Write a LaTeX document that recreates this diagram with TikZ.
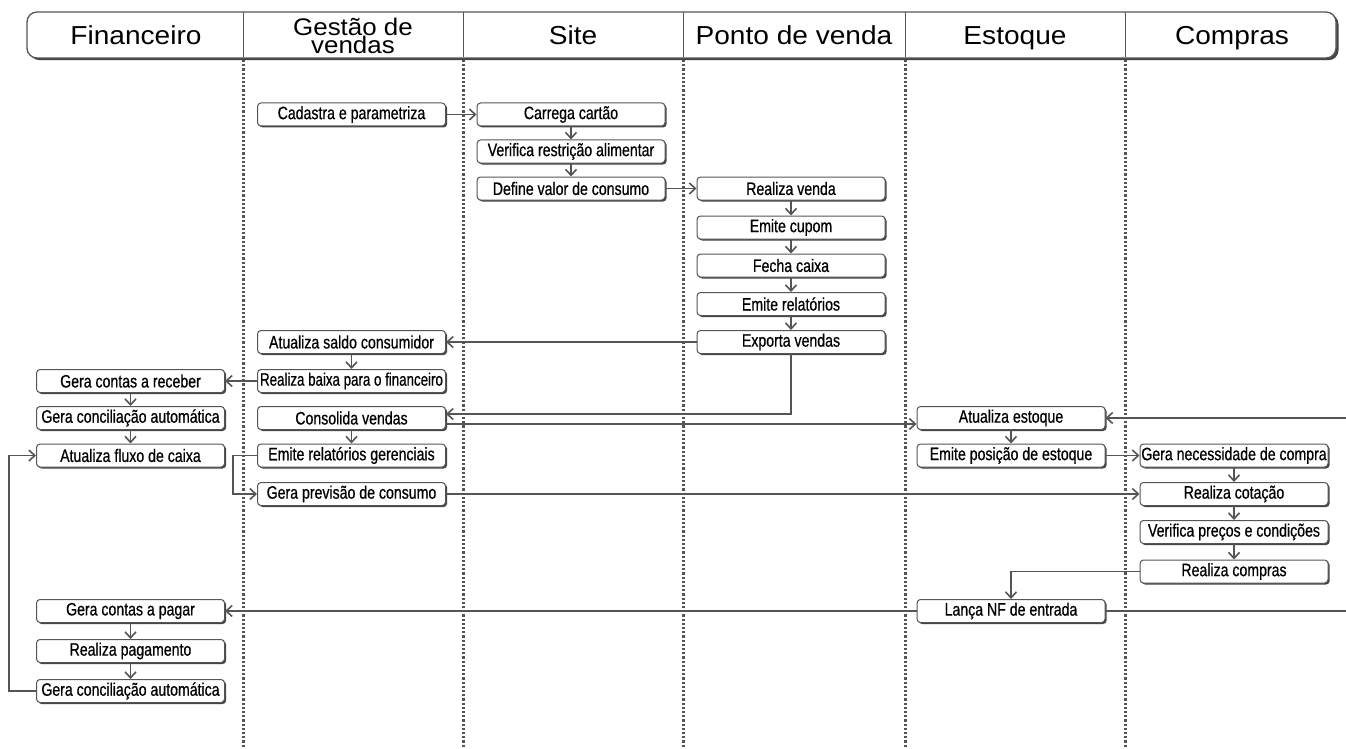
\documentclass[tikz,border=0pt]{standalone}
\usepackage{fontspec}
\setmainfont{Liberation Sans}
\newfontfamily\hdfont[FakeStretch=1.08]{Liberation Sans}
\newfontfamily\bxfont[FakeStretch=0.785,FakeBold=0.6]{Liberation Sans}
\newfontfamily\bxnarrow[FakeStretch=0.74,FakeBold=0.6]{Liberation Sans}
\usetikzlibrary{arrows.meta,shadows,calc}
\definecolor{ln}{HTML}{555555}
\definecolor{sh}{HTML}{444444}
\begin{document}
\begin{tikzpicture}[x=1pt,y=-1pt,
  proc/.style={draw=ln, line width=1pt, rounded corners=3.5pt, fill=white,
    minimum width=188pt, minimum height=23pt, inner sep=0pt,
    font=\bxfont\fontsize{18}{18}\selectfont,
    drop shadow={shadow xshift=1.6pt, shadow yshift=-1.5pt, fill=sh, opacity=1}},
  con/.style={draw=ln, line width=1.6pt, -{Straight Barb[length=6pt,width=11pt]}},
  lin/.style={draw=ln, line width=1.6pt},
  lane/.style={draw=ln, line width=3pt, dash pattern=on 2.2pt off 2pt},
  hdr/.style={font=\hdfont\fontsize{26}{18}\selectfont, align=center, inner sep=0pt, anchor=base},
  hdrdiv/.style={draw=ln, line width=1pt}
]
\useasboundingbox[fill=white] (0,0) rectangle (1346,749);

% header
\node[draw=ln, line width=1.3pt, rounded corners=10pt, fill=white,
  minimum width=1309pt, minimum height=46pt, inner sep=0pt,
  drop shadow={shadow xshift=2.5pt, shadow yshift=-2.2pt, fill=sh, opacity=1}]
  (header) at (681.5,35) {};
\foreach \x in {243,463,683,905,1125}{
  \draw[hdrdiv] (\x,12.5) -- (\x,57.5);
  \draw[lane] (\x,60) -- (\x,749);
}
\node[hdr] (hfin)  at (136,45)  {Financeiro};
\node[hdr, font=\hdfont\fontsize{24}{18.5}\selectfont, anchor=center] (hgv) at (353,36) {Gestão de\\vendas};
\node[hdr] (hsite) at (573,45)  {Site};
\node[hdr] (hpv)   at (794,45)  {Ponto de venda};
\node[hdr] (hest)  at (1015,45) {Estoque};
\node[hdr] (hcomp) at (1232,45) {Compras};

% Gestao de vendas
\node[proc] (cad)    at (351.5,114.5) {Cadastra e parametriza};
\node[proc] (asaldo) at (351.5,342)   {Atualiza saldo consumidor};
\node[proc, font=\bxnarrow\fontsize{18}{18}\selectfont] (rbaixa) at (351.5,381) {Realiza baixa para o financeiro};
\node[proc] (consol) at (351.5,418)   {Consolida vendas};
\node[proc] (emrg)   at (351.5,455.5) {Emite relatórios gerenciais};
\node[proc] (gprev)  at (351.5,494)   {Gera previsão de consumo};
% Site
\node[proc] (carrega) at (571,114.5) {Carrega cartão};
\node[proc] (verif)   at (571,151.5) {Verifica restrição alimentar};
\node[proc] (defv)    at (571,188.5) {Define valor de consumo};
% Ponto de venda
\node[proc] (rvenda) at (791,188.5) {Realiza venda};
\node[proc] (ecupom) at (791,227.5) {Emite cupom};
\node[proc] (fcaixa) at (791,265.5) {Fecha caixa};
\node[proc] (erel)   at (791,304)   {Emite relatórios};
\node[proc] (exp)    at (791,342)   {Exporta vendas};
% Financeiro
\node[proc] (gcr)    at (130.5,381)   {Gera contas a receber};
\node[proc] (gconca) at (130.5,418)   {Gera conciliação automática};
\node[proc] (afluxo) at (130.5,455.5) {Atualiza fluxo de caixa};
\node[proc] (gcp)    at (130.5,611)   {Gera contas a pagar};
\node[proc] (rpag)   at (130.5,651)   {Realiza pagamento};
\node[proc] (gconcb) at (130.5,691)   {Gera conciliação automática};
% Estoque
\node[proc] (aest)  at (1011,418)   {Atualiza estoque};
\node[proc] (epos)  at (1011,455.5) {Emite posição de estoque};
\node[proc] (lanca) at (1011,611)   {Lança NF de entrada};
% Compras
\node[proc] (gnec)  at (1234,455.5) {Gera necessidade de compra};
\node[proc] (rcot)  at (1234,494)   {Realiza cotação};
\node[proc] (vprec) at (1234,532)   {Verifica preços e condições};
\node[proc] (rcomp) at (1234,571.5) {Realiza compras};

\coordinate (redge) at (1346,0);
\coordinate (loopx) at (9,0);
\coordinate (gvx) at (233,0);

% connectors
\draw[con] (cad.east) -- (carrega.west);
\draw[con] (carrega.south) -- (verif.north);
\draw[con] (verif.south) -- (defv.north);
\draw[con] (defv.east) -- (rvenda.west);
\draw[con] (rvenda.south) -- (ecupom.north);
\draw[con] (ecupom.south) -- (fcaixa.north);
\draw[con] (fcaixa.south) -- (erel.north);
\draw[con] (erel.south) -- (exp.north);
\draw[con] (exp.west) -- (asaldo.east);
\draw[con] (asaldo.south) -- (rbaixa.north);
\draw[con] (rbaixa.west) -- (gcr.east);
\draw[con] (gcr.south) -- (gconca.north);
\draw[con] (gconca.south) -- (afluxo.north);
\draw[con] (exp.south) |- ([yshift=4pt]consol.east);
\draw[con] ([yshift=-6pt]consol.east) -- ([yshift=-6pt]aest.west);
\draw[con] (consol.south) -- (emrg.north);
\draw[con] (emrg.west) -- (emrg.west -| gvx) |- (gprev.west);
\draw[con] (gprev.east) -- (rcot.west);
\draw[con] (aest.east -| redge) -- (aest.east);
\draw[con] (aest.south) -- (epos.north);
\draw[con] (epos.east) -- (gnec.west);
\draw[con] (gnec.south) -- (rcot.north);
\draw[con] (rcot.south) -- (vprec.north);
\draw[con] (vprec.south) -- (rcomp.north);
\draw[con] (rcomp.west) -| (lanca.north);
\draw[con] (lanca.west) -- (gcp.east);
\draw[lin] (lanca.east) -- (lanca.east -| redge);
\draw[con] (gcp.south) -- (rpag.north);
\draw[con] (rpag.south) -- (gconcb.north);
\draw[con] (gconcb.west) -- (gconcb.west -| loopx) |- (afluxo.west);
\end{tikzpicture}
\end{document}
